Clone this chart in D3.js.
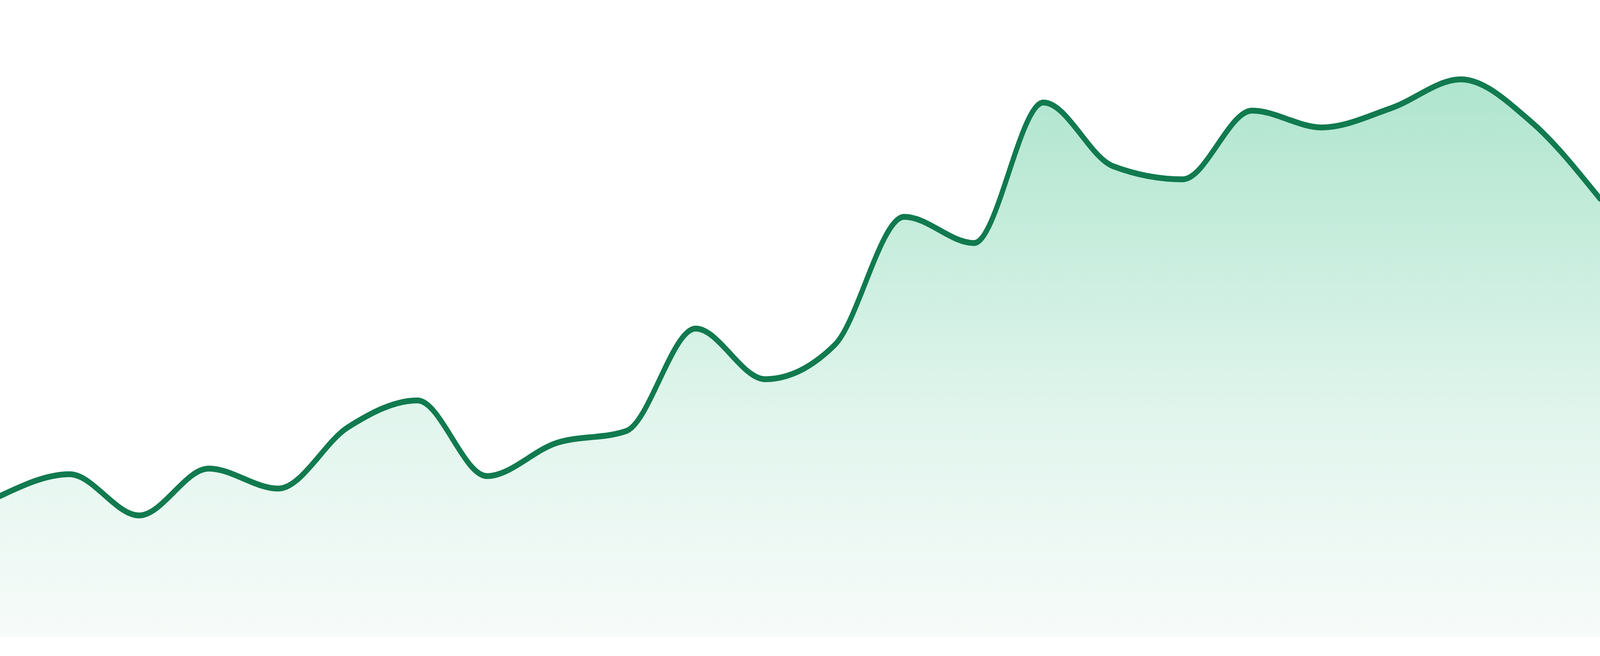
<!DOCTYPE html>
<html>
<head>
<meta charset="utf-8">
<script src="https://cdn.jsdelivr.net/npm/d3@7"></script>
<style>
  html, body { margin: 0; padding: 0; overflow: hidden; background: #ffffff; }
  svg { display: block; width: 100vw; height: 100vh; }
</style>
</head>
<body>
<script>
// Define data
const points = d3.range(24);
const values = [22.6, 26.1, 19.5, 27.0, 23.8, 33.6, 37.9, 25.8, 31.1, 33.0, 49.4, 41.3,
                46.8, 67.3, 63.1, 85.6, 75.4, 73.3, 84.3, 81.6, 84.7, 89.3, 82.6, 70.2];

let
width = 4800,
height = 1680;

let margin = {
  top: 32,
  bottom: 48,
  left: 0,
  right: 0
};

let data = points.map((p, i) => ({ x: p, v: values[i] }));

// drawn in a 4800x1680 box and stretched to the real viewport
let svg = d3
  .select('body')
  .append('svg')
    .attr('viewBox', `0 0 ${width} ${height}`)
    .attr('preserveAspectRatio', 'none')
    .style('background', '#ffffff');

let xScale = d3.scaleLinear()
  .domain([0, points.length - 1])
  .range([margin.left, width - margin.right]);

let yScale = d3.scaleLinear()
  .domain([0, 100])
  .range([height - margin.bottom, margin.top]);

// gradient under the line, from the highest point down to the base
let grad = svg.append('defs')
  .append('linearGradient')
    .attr('id', 'fillGrad')
    .attr('gradientUnits', 'userSpaceOnUse')
    .attr('x1', 0).attr('x2', 0)
    .attr('y1', yScale(d3.max(values)))
    .attr('y2', yScale(0));

grad.append('stop').attr('offset', '0%').attr('stop-color', '#afe5ce');
grad.append('stop').attr('offset', '60%').attr('stop-color', '#e1f5ed');
grad.append('stop').attr('offset', '100%').attr('stop-color', '#f7fbf9');

let area = d3.area()
  .x(d => xScale(d.x))
  .y0(yScale(0))
  .y1(d => yScale(d.v))
  .curve(d3.curveMonotoneX);

let line = d3.line()
  .x(d => xScale(d.x))
  .y(d => yScale(d.v))
  .curve(d3.curveMonotoneX);

svg.append('path')
  .datum(data)
    .attr('d', area)
    .attr('fill', 'url(#fillGrad)');

svg.append('path')
  .datum(data)
    .attr('d', line)
    .attr('fill', 'none')
    .attr('stroke', '#117a4f')
    .attr('stroke-width', 15)
    .attr('stroke-linejoin', 'round')
    .attr('stroke-linecap', 'round');
</script>
</body>
</html>
